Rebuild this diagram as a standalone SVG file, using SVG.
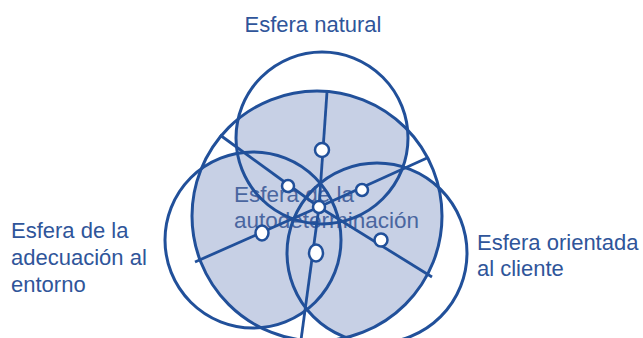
<svg xmlns="http://www.w3.org/2000/svg" width="643" height="338" viewBox="0 0 643 338">
<style>
.lbl{font-family:"Liberation Sans",Arial,sans-serif;font-size:22px;fill:#2f559a}
.ctr{font-family:"Liberation Sans",Arial,sans-serif;font-size:22.5px;fill:#4a66a0}
.ring{fill:none;stroke:#21509a;stroke-width:3}
.shade{fill:#c7d0e5}
.spoke{stroke:#21509a;stroke-width:2.8;fill:none}
.dot{fill:#ffffff;stroke:#21509a;stroke-width:2.5}
</style>
<defs>
<clipPath id="cBig"><circle cx="317" cy="216" r="125"/></clipPath>
</defs>
<rect width="643" height="338" fill="#ffffff"/>
<g id="shading" clip-path="url(#cBig)">
<circle class="shade" cx="322" cy="138" r="86"/>
<circle class="shade" cx="253" cy="240" r="88"/>
<circle class="shade" cx="377" cy="253" r="90"/>
</g>
<g id="node-autodeterminacion">
<text class="ctr" x="234" y="202">Esfera de la</text>
<text class="ctr" x="234" y="228">autodeterminación</text>
</g>
<g id="connectors">
<circle class="ring" cx="317" cy="216" r="125"/>
<line class="spoke" x1="327" y1="92" x2="319" y2="207"/>
<line class="spoke" x1="220" y1="135" x2="319" y2="207"/>
<line class="spoke" x1="427" y1="158" x2="319" y2="207"/>
<line class="spoke" x1="195" y1="262" x2="319" y2="207"/>
<line class="spoke" x1="432" y1="277" x2="319" y2="207"/>
<line class="spoke" x1="301" y1="340" x2="319" y2="207"/>
</g>
<g id="node-natural">
<circle class="ring" cx="322" cy="138" r="86"/>
<text class="lbl" x="313" y="32" text-anchor="middle">Esfera natural</text>
</g>
<g id="node-adecuacion">
<circle class="ring" cx="253" cy="240" r="88"/>
<text class="lbl" x="11" y="238">Esfera de la</text>
<text class="lbl" x="11" y="265">adecuación al</text>
<text class="lbl" x="11" y="292">entorno</text>
</g>
<g id="node-cliente">
<circle class="ring" cx="377" cy="253" r="90"/>
<text class="lbl" x="477" y="250">Esfera orientada</text>
<text class="lbl" x="477" y="276">al cliente</text>
</g>
<g id="dots">
<ellipse class="dot" cx="322" cy="150" rx="7" ry="7"/>
<ellipse class="dot" cx="288" cy="186" rx="6" ry="6"/>
<ellipse class="dot" cx="362" cy="190" rx="6" ry="6"/>
<ellipse class="dot" cx="319" cy="207" rx="6" ry="6"/>
<ellipse class="dot" cx="262" cy="233" rx="6.5" ry="7.5"/>
<ellipse class="dot" cx="381" cy="240" rx="6.5" ry="6.5"/>
<ellipse class="dot" cx="316" cy="253" rx="7" ry="8.5"/>
</g>
</svg>
